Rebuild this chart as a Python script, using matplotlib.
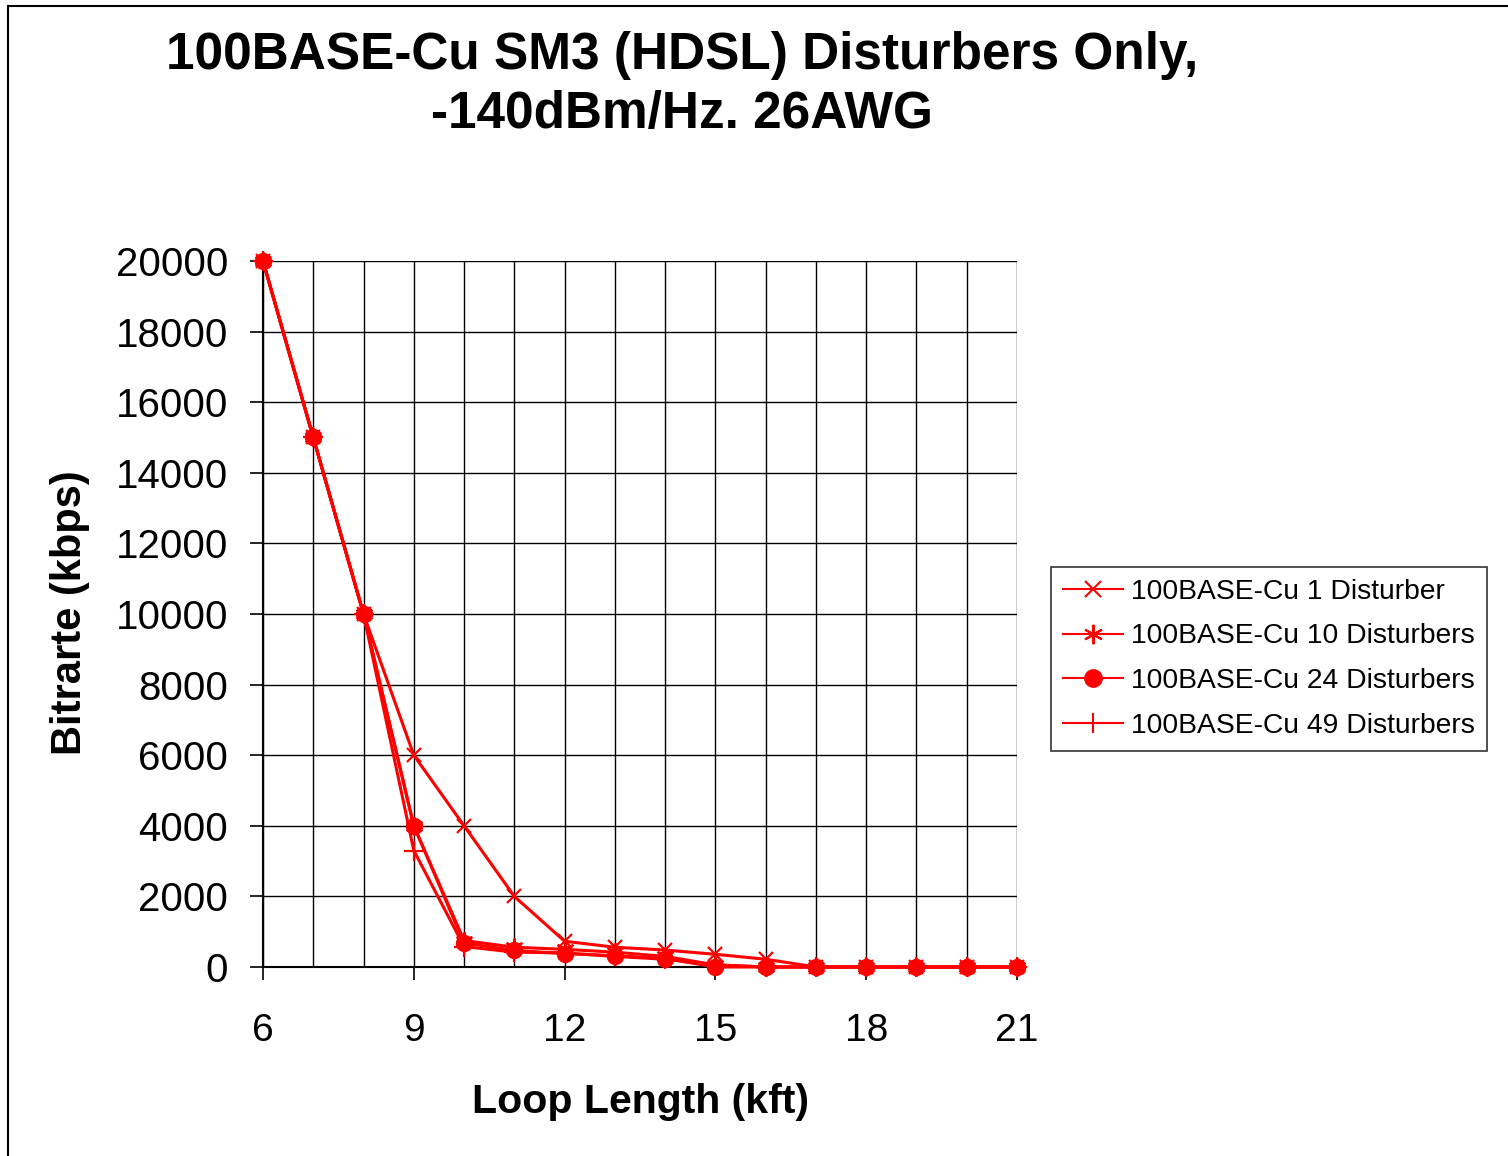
import matplotlib
matplotlib.use("Agg")
import matplotlib.pyplot as plt
from matplotlib.lines import Line2D

plt.rcParams['font.family'] = ['Liberation Sans', 'DejaVu Sans']

loop_kft = [6, 7, 8, 9, 10, 11, 12, 13, 14, 15, 16, 17, 18, 19, 20, 21]
d1 = [20000, 15000, 10000, 6000, 4000, 2000, 730, 560, 480, 360, 220, 0, 0, 0, 0, 0]
d10 = [20000, 15000, 10000, 4000, 750, 560, 500, 420, 300, 60, 0, 0, 0, 0, 0, 0]
d24 = [20000, 15000, 10000, 4000, 680, 470, 380, 320, 240, 0, 0, 0, 0, 0, 0, 0]
d49 = [20000, 15000, 10000, 3300, 580, 420, 400, 300, 220, 60, 0, 0, 0, 0, 0, 0]
labels = ["100BASE-Cu 1 Disturber", "100BASE-Cu 10 Disturbers",
          "100BASE-Cu 24 Disturbers", "100BASE-Cu 49 Disturbers"]
x_ticks = [6, 9, 12, 15, 18, 21]
y_ticks = [0, 2000, 4000, 6000, 8000, 10000, 12000, 14000, 16000, 18000, 20000]

W, H = 1508, 1156
fig = plt.figure(figsize=(W / 100, H / 100), dpi=100)
ax = fig.add_axes([263 / W, 1 - 967 / H, (1017 - 263) / W, (967 - 261) / H])

red = '#FF0000'
ast = (6, 2, 0)
series = [(d1, 'x', 10.5, 1.6), (d10, ast, 13, 1.6), (d24, 'o', 11, 1.5), (d49, '+', 14, 1.6)]
for vals, mk, ms, mew in series:
    ax.plot(loop_kft, vals, color=red, lw=2.2, marker=mk, ms=ms, mew=mew,
            mfc=red, mec=red, clip_on=False, zorder=3)

ax.set_xlim(6, 21)
ax.set_ylim(0, 20000)
ax.set_xticks(x_ticks)
ax.set_xticks(loop_kft, minor=True)
ax.set_yticks(y_ticks)
ax.grid(True, which='both', axis='x', color='black', lw=1)
ax.grid(True, which='major', axis='y', color='black', lw=1)
ax.tick_params(axis='both', which='major', direction='out', length=9.4, width=1.2)
ax.tick_params(axis='y', which='major', labelsize=29, pad=15.8)
ax.tick_params(axis='x', which='major', labelsize=28, pad=23.5)
ax.tick_params(axis='x', which='minor', length=0)
for s in ['left', 'bottom']:
    ax.spines[s].set_linewidth(1.5)
for s in ['top', 'right']:
    ax.spines[s].set_visible(False)

ax.set_xlabel('Loop Length (kft)', fontsize=29.5, fontweight='bold')
ax.set_ylabel('Bitrarte (kbps)', fontsize=30, fontweight='bold')
# place labels at reference positions (axes coords)
ax_w, ax_h = 1017 - 263, 967 - 261
ax.xaxis.set_label_coords((641 - 263) / ax_w, -(1102 - 967) / ax_h)
ax.xaxis.label.set_va('center')
ax.yaxis.set_label_coords(-(263 - 70) / ax_w, (967 - 613) / ax_h)
ax.yaxis.label.set_va('center')

fig.text(682 / W, 1 - 85 / H, '100BASE-Cu SM3 (HDSL) Disturbers Only,\n-140dBm/Hz. 26AWG',
         ha='center', va='center', fontsize=37, fontweight='bold', linespacing=1.25)

leg_ms = [11.5, 14, 12, 15]
handles = [Line2D([0], [0], color=red, lw=1.5, marker=s[1], ms=m, mew=1.5, mfc=red, mec=red)
           for s, m in zip(series, leg_ms)]
leg = fig.legend(handles, labels, loc='upper left',
                 bbox_to_anchor=(1051 / W, 1 - 567 / H), fontsize=20.3, frameon=True,
                 fancybox=False, edgecolor='black', handlelength=2.15, handletextpad=0.28,
                 borderpad=0.42, labelspacing=0.66, borderaxespad=0)
leg.get_frame().set_linewidth(1.2)

# page frame lines
fig.add_artist(Line2D([8 / W, 8 / W], [0, 1 - 6 / H], color='black', lw=1.5, transform=fig.transFigure))
fig.add_artist(Line2D([8 / W, 1], [1 - 6 / H, 1 - 6 / H], color='black', lw=1.5, transform=fig.transFigure))

fig.savefig('out.png', dpi=100)
